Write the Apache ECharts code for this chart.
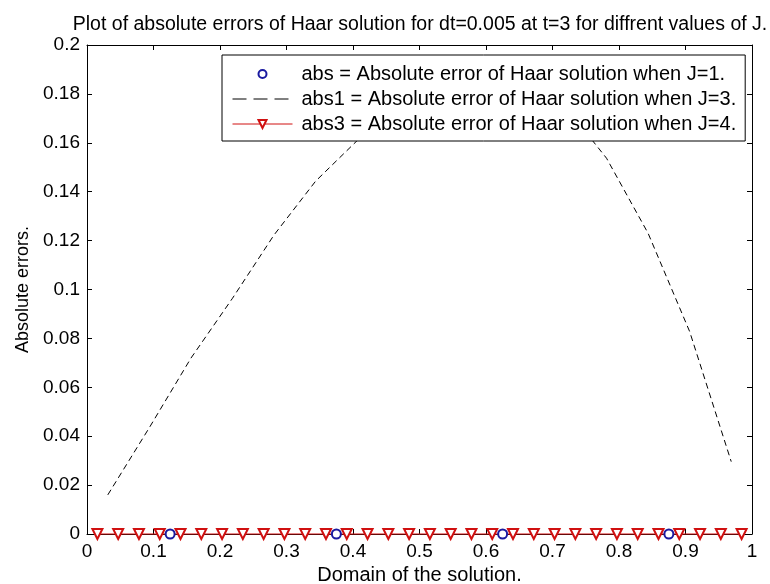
<!DOCTYPE html>
<html>
<head>
<meta charset="utf-8">
<script src="https://cdn.jsdelivr.net/npm/echarts@6/dist/echarts.min.js"></script>
<style>
html, body { margin: 0; padding: 0; background: #fff; }
#chart { width: 770px; height: 584px; }
</style>
</head>
<body>
<div id="chart"></div>
<script>
// collocation points and absolute errors
var xJ1 = [0.125, 0.375, 0.625, 0.875];
var absJ1 = [0, 0, 0, 0];

var xJ3 = [0.03125, 0.09375, 0.15625, 0.21875, 0.28125, 0.34375, 0.40625, 0.46875,
           0.53125, 0.59375, 0.65625, 0.71875, 0.78125, 0.84375, 0.90625, 0.96875];
var absJ3 = [0.0160, 0.0435, 0.0719, 0.0964, 0.1223, 0.1443, 0.1609, 0.1740,
             0.1830, 0.1870, 0.1850, 0.1750, 0.1537, 0.1230, 0.0828, 0.0296];

var xJ4 = [0.015625, 0.046875, 0.078125, 0.109375, 0.140625, 0.171875, 0.203125, 0.234375,
           0.265625, 0.296875, 0.328125, 0.359375, 0.390625, 0.421875, 0.453125, 0.484375,
           0.515625, 0.546875, 0.578125, 0.609375, 0.640625, 0.671875, 0.703125, 0.734375,
           0.765625, 0.796875, 0.828125, 0.859375, 0.890625, 0.921875, 0.953125, 0.984375];
var absJ4 = [0, 0, 0, 0, 0, 0, 0, 0, 0, 0, 0, 0, 0, 0, 0, 0,
             0, 0, 0, 0, 0, 0, 0, 0, 0, 0, 0, 0, 0, 0, 0, 0];

var names = ['abs = Absolute error of Haar solution when J=1.',
             'abs1 = Absolute error of Haar solution when J=3.',
             'abs3 = Absolute error of Haar solution when J=4.'];

function pairs(xs, ys) {
	var out = [];
	for (var i = 0; i < xs.length; i++) out.push([xs[i], ys[i]]);
	return out;
}

var font = 'Liberation Sans, Arial, sans-serif';
var myChart = echarts.init(document.getElementById('chart'));
var option = {
	animation: false,
	backgroundColor: '#fff',
	textStyle: { fontFamily: font },
	title: {
		text: 'Plot of absolute errors of Haar solution for dt=0.005 at t=3 for diffrent values of J.',
		left: 415,
		top: 10,
		textAlign: 'center',
		textStyle: { fontFamily: font, fontSize: 19.5, fontWeight: 'normal', color: '#000' }
	},
	grid: { left: 87, right: 18, top: 45, bottom: 50, outerBoundsMode: 'none' },
	legend: {
		orient: 'vertical',
		left: 222,
		top: 55,
		padding: [9, 9, 7, 10],
		itemWidth: 60,
		itemHeight: 10,
		itemGap: 5,
		backgroundColor: '#fff',
		borderColor: '#000',
		borderWidth: 1,
		borderRadius: 0,
		lineStyle: { width: 1 },
		textStyle: { fontFamily: font, fontSize: 20, color: '#000', padding: [0, 0, 0, 4] },
		data: [
			{ name: names[0], lineStyle: { width: 0 } },
			{ name: names[1], itemStyle: { opacity: 0 }, lineStyle: { type: [14, 7] } },
			{ name: names[2] }
		]
	},
	xAxis: [{
		type: 'value', min: 0, max: 1, interval: 0.1,
		name: 'Domain of the solution.', nameLocation: 'middle', nameGap: 29,
		nameTextStyle: { fontFamily: font, fontSize: 20, color: '#000' },
		axisLine: { onZero: false, lineStyle: { color: '#000', width: 1 } },
		axisTick: { inside: true, length: 5, lineStyle: { color: '#000' } },
		axisLabel: { margin: 8, fontFamily: font, fontSize: 19, color: '#000' },
		splitLine: { show: false }
	}, {
		type: 'value', min: 0, max: 1, interval: 0.1, position: 'top',
		axisLine: { onZero: false, lineStyle: { color: '#000', width: 1 } },
		axisTick: { inside: true, length: 5, lineStyle: { color: '#000' } },
		axisLabel: { show: false },
		splitLine: { show: false }
	}],
	yAxis: [{
		type: 'value', min: 0, max: 0.2, interval: 0.02,
		name: 'Absolute errors.', nameLocation: 'middle', nameGap: 55, nameRotate: 90,
		nameTextStyle: { fontFamily: font, fontSize: 18, color: '#000' },
		axisLine: { show: true, onZero: false, lineStyle: { color: '#000', width: 1 } },
		axisTick: { show: true, inside: true, length: 5, lineStyle: { color: '#000' } },
		axisLabel: { margin: 7, fontFamily: font, fontSize: 19, color: '#000' },
		splitLine: { show: false }
	}, {
		type: 'value', min: 0, max: 0.2, interval: 0.02, position: 'right',
		axisLine: { show: true, onZero: false, lineStyle: { color: '#000', width: 1 } },
		axisTick: { show: true, inside: true, length: 5, lineStyle: { color: '#000' } },
		axisLabel: { show: false },
		splitLine: { show: false }
	}],
	series: [
		{
			name: names[0], type: 'line', data: pairs(xJ1, absJ1),
			symbol: 'emptyCircle', symbolSize: 9, clip: false,
			lineStyle: { width: 0 },
			itemStyle: { color: '#1a1aa0', borderWidth: 1 },
			z: 4
		},
		{
			name: names[1], type: 'line', data: pairs(xJ3, absJ3),
			symbol: 'none', clip: false,
			lineStyle: { color: '#000', width: 1, type: [6, 4] },
			itemStyle: { color: '#000' }
		},
		{
			name: names[2], type: 'line', data: pairs(xJ4, absJ4),
			symbol: 'emptyTriangle', symbolSize: [10, 10], symbolRotate: 180, clip: false,
			lineStyle: { color: '#d01010', width: 1 },
			itemStyle: { color: '#d01010', borderWidth: 1 },
			z: 3
		}
	]
};
myChart.setOption(option);
</script>
</body>
</html>
